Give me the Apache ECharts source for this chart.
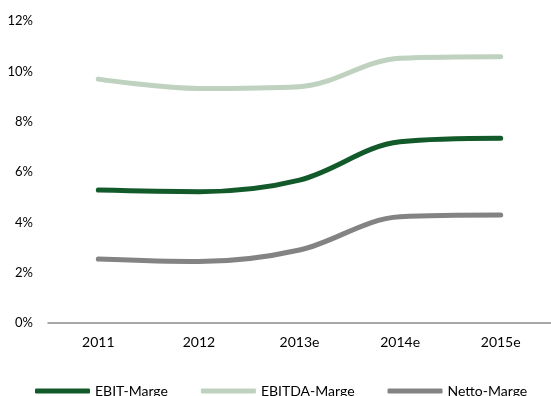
<!DOCTYPE html>
<html>
<head>
<meta charset="utf-8">
<script src="https://cdn.jsdelivr.net/npm/echarts@6/dist/echarts.min.js"></script>
<style>
  html, body { margin: 0; padding: 0; background: #fff; }
  #chart { width: 551px; height: 396px; }
</style>
</head>
<body>
<div id="chart"></div>
<script>
// Margins in percent by year (e = estimate)
const years = ['2011', '2012', '2013e', '2014e', '2015e'];
const ebitMarge = [5.28, 5.22, 5.68, 7.2, 7.34];
const ebitdaMarge = [9.69, 9.32, 9.39, 10.52, 10.58];
const nettoMarge = [2.54, 2.44, 2.9, 4.22, 4.29];

const FONT = 'Lato';

function lineSeries(name, data, color) {
  return {
    name: name,
    type: 'line',
    data: data,
    smooth: 0.35,
    symbol: 'none',
    lineStyle: { color: color, width: 5, cap: 'round', join: 'round' },
    itemStyle: { color: color },
    emphasis: { disabled: true }
  };
}

const chart = echarts.init(document.getElementById('chart'), null, { renderer: 'canvas' });
chart.setOption({
  animation: false,
  backgroundColor: '#ffffff',
  grid: { left: 48, top: 21, width: 516, height: 302, containLabel: false },
  legend: {
    left: 30,
    top: 379,
    itemWidth: 55,
    itemHeight: 5,
    itemGap: 33,
    icon: 'roundRect',
    textStyle: { fontFamily: FONT, fontSize: 14, color: '#000' },
    data: ['EBIT-Marge', 'EBITDA-Marge', 'Netto-Marge']
  },
  xAxis: {
    type: 'category',
    data: years,
    boundaryGap: true,
    axisLine: { lineStyle: { color: '#8c8c8c', width: 1.5 } },
    axisTick: { show: false },
    axisLabel: { fontFamily: FONT, fontSize: 14, color: '#000', margin: 12 },
    splitLine: { show: false }
  },
  yAxis: {
    type: 'value',
    min: 0,
    max: 12,
    interval: 2,
    axisLine: { show: false },
    axisTick: { show: false },
    splitLine: { show: false },
    axisLabel: {
      fontFamily: FONT, fontSize: 13, color: '#000', margin: 15,
      formatter: v => v + '%'
    }
  },
  series: [
    lineSeries('EBIT-Marge', ebitMarge, '#135a2b'),
    lineSeries('EBITDA-Marge', ebitdaMarge, '#bfd1bf'),
    lineSeries('Netto-Marge', nettoMarge, '#838383')
  ]
});
</script>
</body>
</html>
